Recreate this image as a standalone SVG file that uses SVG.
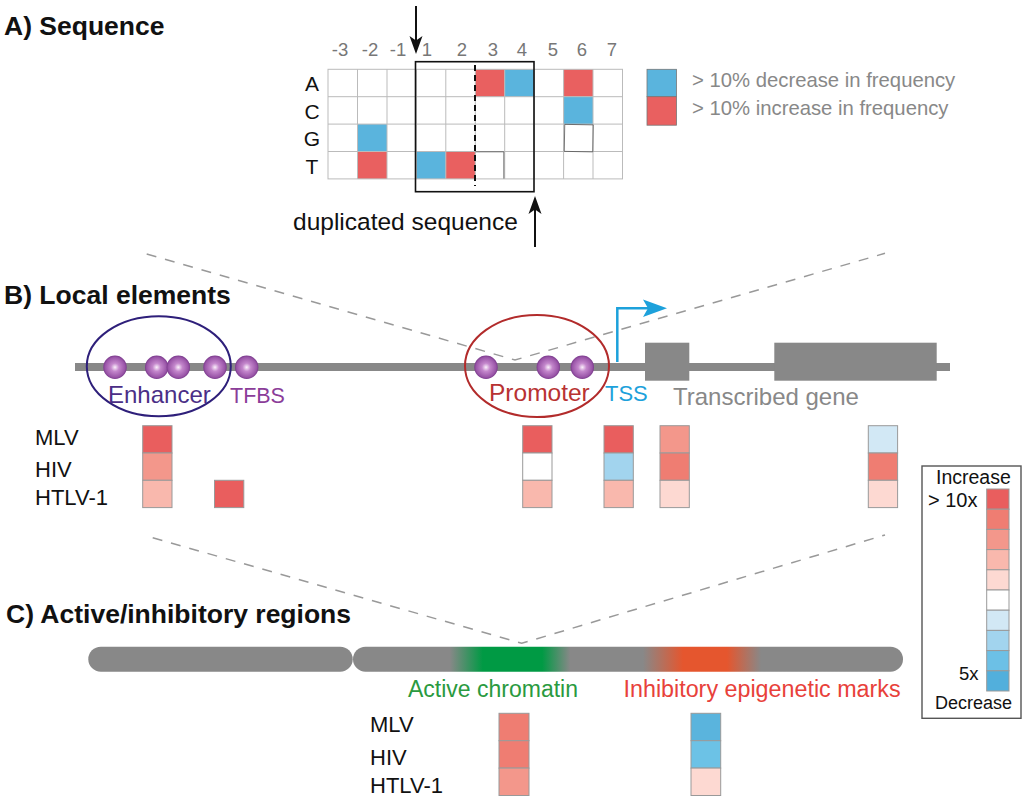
<svg xmlns="http://www.w3.org/2000/svg" width="1024" height="801" viewBox="0 0 1024 801">
<style>
text{font-family:"Liberation Sans",Arial,sans-serif}
.title{font-weight:bold;font-size:26.5px;fill:#111}
.num{font-size:18.5px;fill:#777;text-anchor:middle}
.row{font-size:21px;fill:#111;text-anchor:middle}
.lab{font-size:22px;fill:#111}
.leg{font-size:20.3px;fill:#888}
.grid{fill:none;stroke:#bbb;stroke-width:1}
.cell{stroke:#999;stroke-width:1}
.dash{fill:none;stroke:#999;stroke-width:1.5;stroke-dasharray:10 9}
.r1{fill:#E95E5E}.r2{fill:#EF7D72}.r3{fill:#F3978B}.r4{fill:#F9B8AD}.r5{fill:#FDD9D2}
.w{fill:#fff}.b1{fill:#D2E8F5}.b2{fill:#A2D4EE}.b3{fill:#6CC0E6}.b4{fill:#52AFDC}
.red{fill:#E96060}.blue{fill:#5AB4DD}
.ball{fill:url(#ballg)}
</style>
<defs>
<radialGradient id="ballg" cx="50%" cy="50%" r="50%">
<stop offset="0" stop-color="#FBF0FB"/>
<stop offset="0.35" stop-color="#C487CC"/>
<stop offset="0.85" stop-color="#9A55A8"/>
<stop offset="1" stop-color="#7A3A8C"/>
</radialGradient>
<linearGradient id="chrom" x1="353" y1="0" x2="903" y2="0" gradientUnits="userSpaceOnUse">
<stop offset="0" stop-color="#888"/>
<stop offset="0.176" stop-color="#888"/>
<stop offset="0.236" stop-color="#009A44"/>
<stop offset="0.344" stop-color="#009A44"/>
<stop offset="0.395" stop-color="#888"/>
<stop offset="0.527" stop-color="#888"/>
<stop offset="0.6" stop-color="#E5562E"/>
<stop offset="0.68" stop-color="#E5562E"/>
<stop offset="0.742" stop-color="#888"/>
<stop offset="1" stop-color="#888"/>
</linearGradient>
</defs>
<rect width="1024" height="801" fill="#fff"/>

<g id="sectionA">
<text class="title" x="4" y="35">A) Sequence</text>
<g id="colnums">
<text class="num" x="340" y="56">-3</text>
<text class="num" x="370" y="56">-2</text>
<text class="num" x="398" y="56">-1</text>
<text class="num" x="427" y="56">1</text>
<text class="num" x="462" y="56">2</text>
<text class="num" x="493" y="56">3</text>
<text class="num" x="522" y="56">4</text>
<text class="num" x="553" y="56">5</text>
<text class="num" x="582" y="56">6</text>
<text class="num" x="612" y="56">7</text>
</g>
<g id="rowlabels">
<text class="row" x="312" y="91">A</text>
<text class="row" x="312" y="118.5">C</text>
<text class="row" x="312" y="146">G</text>
<text class="row" x="312" y="173.5">T</text>
</g>
<g id="cells">
<rect class="red" x="475.3" y="69.3" width="29.4" height="27.4"/>
<rect class="blue" x="504.7" y="69.3" width="29.5" height="27.4"/>
<rect class="red" x="563.6" y="69.3" width="29.4" height="27.4"/>
<rect class="blue" x="563.6" y="96.7" width="29.4" height="27.4"/>
<rect class="blue" x="357.5" y="124.1" width="29.5" height="27.4"/>
<rect class="red" x="357.5" y="151.5" width="29.5" height="27.4"/>
<rect class="blue" x="416.3" y="151.5" width="29.5" height="27.4"/>
<rect class="red" x="445.8" y="151.5" width="29.5" height="27.4"/>
</g>
<g id="gridlines" class="grid">
<rect x="328" y="69.3" width="294.5" height="109.6"/>
<path d="M357.5 69.3V178.9M387 69.3V178.9M416.3 69.3V178.9M445.8 69.3V178.9M475.3 69.3V178.9M504.7 69.3V178.9M534.2 69.3V178.9M563.6 69.3V178.9M593 69.3V178.9M328 96.7H622.5M328 124.1H622.5M328 151.5H622.5"/>
</g>
<rect x="564.5" y="124.6" width="28.5" height="27" fill="none" stroke="#555" stroke-width="0.8" transform="rotate(1 578 138)"/>
<path d="M475.3 151.8H503.8V178.6" fill="none" stroke="#555" stroke-width="0.8"/>
<rect id="dupbox" x="415.5" y="61.7" width="118.5" height="130" fill="none" stroke="#111" stroke-width="1.6"/>
<line x1="475" y1="65" x2="475" y2="186" stroke="#111" stroke-width="2" stroke-dasharray="6 4"/>
<g id="arrowDown">
<line x1="416" y1="6" x2="416" y2="44" stroke="#111" stroke-width="2"/>
<path d="M416 54L409.5 36L416 40.5L422.5 36Z" fill="#111"/>
</g>
<g id="arrowUp">
<line x1="535" y1="247" x2="535" y2="206" stroke="#111" stroke-width="2"/>
<path d="M535 196L528.5 214L535 209.5L541.5 214Z" fill="#111"/>
</g>
<text class="lab" x="293" y="230" style="font-size:24.5px">duplicated sequence</text>
<g id="legendA">
<rect x="647" y="69.3" width="29.5" height="27.4" fill="#5AB4DD" stroke="#777" stroke-width="0.8"/>
<rect x="647" y="96.7" width="29.5" height="28.5" fill="#E96060" stroke="#777" stroke-width="0.8"/>
<text class="leg" x="692" y="86.5">&gt; 10% decrease in frequency</text>
<text class="leg" x="692" y="115">&gt; 10% increase in frequency</text>
</g>
</g>

<g id="connectors">
<path class="dash" d="M146.7 254L515 360L885 253.3"/>
<path class="dash" d="M152.7 537.7L521.7 643.3L885 535"/>
</g>

<g id="sectionB">
<text class="title" x="4" y="304">B) Local elements</text>
<g id="geneline">
<rect x="75" y="363" width="875" height="8" fill="#888"/>
<rect id="exon1" x="645" y="342.7" width="44.3" height="38" fill="#888"/>
<rect id="exon2" x="774.3" y="342.7" width="162.4" height="38" fill="#888"/>
</g>
<g id="enhancer">
<circle class="ball" cx="115" cy="367.3" r="11.7"/>
<circle class="ball" cx="156.7" cy="367.3" r="11.7"/>
<circle class="ball" cx="178.3" cy="367.3" r="11.7"/>
<circle class="ball" cx="215" cy="367.3" r="11.7"/>
<ellipse cx="158.8" cy="366.3" rx="72" ry="50" fill="none" stroke="#2E1F7A" stroke-width="2"/>
<text x="108" y="403" style="font-size:24px;fill:#4B2E86">Enhancer</text>
</g>
<g id="tfbs">
<circle class="ball" cx="246.7" cy="367.3" r="11.7"/>
<text x="230" y="403" style="font-size:21.5px;fill:#8B3D99">TFBS</text>
</g>
<g id="promoter">
<circle class="ball" cx="486" cy="367.3" r="11.7"/>
<circle class="ball" cx="548.3" cy="367.3" r="11.7"/>
<circle class="ball" cx="582.3" cy="367.3" r="11.7"/>
<ellipse cx="537" cy="366" rx="72" ry="51" fill="none" stroke="#B22B2B" stroke-width="2"/>
<text x="489" y="401" style="font-size:24.5px;fill:#B83232">Promoter</text>
</g>
<g id="tss">
<path d="M617.3 362V308.3H652" fill="none" stroke="#1DA1DB" stroke-width="2.5"/>
<path d="M667 308.3L643 299.5L648 308.3L643 317Z" fill="#1DA1DB"/>
<text x="605" y="401" style="font-size:22px;fill:#1DA1DB">TSS</text>
</g>
<text id="gene" x="673" y="405" style="font-size:24px;fill:#888">Transcribed gene</text>
<g id="labelsB">
<text class="lab" x="35" y="445">MLV</text>
<text class="lab" x="35" y="476.5">HIV</text>
<text class="lab" x="35" y="505">HTLV-1</text>
</g>
<g id="heatB">
<rect class="cell r1" x="142.7" y="425.7" width="29.3" height="27.3"/>
<rect class="cell r3" x="142.7" y="453" width="29.3" height="27.3"/>
<rect class="cell r4" x="142.7" y="480.3" width="29.3" height="27.3"/>
<rect class="cell r1" x="214.5" y="480.3" width="29.3" height="27.3"/>
<rect class="cell r1" x="522.7" y="425.7" width="29.3" height="27.3"/>
<rect class="cell w" x="522.7" y="453" width="29.3" height="27.3"/>
<rect class="cell r4" x="522.7" y="480.3" width="29.3" height="27.3"/>
<rect class="cell r1" x="604" y="425.7" width="29.3" height="27.3"/>
<rect class="cell b2" x="604" y="453" width="29.3" height="27.3"/>
<rect class="cell r4" x="604" y="480.3" width="29.3" height="27.3"/>
<rect class="cell r3" x="660" y="425.7" width="29.3" height="27.3"/>
<rect class="cell r2" x="660" y="453" width="29.3" height="27.3"/>
<rect class="cell r5" x="660" y="480.3" width="29.3" height="27.3"/>
<rect class="cell b1" x="868.3" y="425.7" width="29.3" height="27.3"/>
<rect class="cell r2" x="868.3" y="453" width="29.3" height="27.3"/>
<rect class="cell r5" x="868.3" y="480.3" width="29.3" height="27.3"/>
</g>
</g>

<g id="legendScale">
<rect x="922" y="466" width="99" height="252.3" fill="#fff" stroke="#555" stroke-width="1.4"/>
<text x="936" y="483.5" style="font-size:19.5px;fill:#111">Increase</text>
<text x="928" y="506.5" style="font-size:20px;fill:#111">&gt; 10x</text>
<text x="959" y="680" style="font-size:18.5px;fill:#111">5x</text>
<text x="935" y="708.5" style="font-size:18px;fill:#111">Decrease</text>
<rect class="cell r1" x="986.7" y="489" width="22.3" height="20.2"/>
<rect class="cell r2" x="986.7" y="509.2" width="22.3" height="20.2"/>
<rect class="cell r3" x="986.7" y="529.4" width="22.3" height="20.2"/>
<rect class="cell r4" x="986.7" y="549.6" width="22.3" height="20.2"/>
<rect class="cell r5" x="986.7" y="569.8" width="22.3" height="20.2"/>
<rect class="cell w" x="986.7" y="590" width="22.3" height="20.2"/>
<rect class="cell b1" x="986.7" y="610.2" width="22.3" height="20.2"/>
<rect class="cell b2" x="986.7" y="630.4" width="22.3" height="20.2"/>
<rect class="cell b3" x="986.7" y="650.6" width="22.3" height="20.2"/>
<rect class="cell b4" x="986.7" y="670.8" width="22.3" height="20.2"/>
</g>

<g id="sectionC">
<text class="title" x="6" y="623">C) Active/inhibitory regions</text>
<g id="chromosome">
<rect x="88.3" y="646.7" width="264.4" height="25" rx="12.5" fill="#888"/>
<rect x="353" y="646.7" width="550" height="25" rx="12.5" fill="url(#chrom)"/>
</g>
<text x="408" y="696.7" style="font-size:23px;fill:#2A9A40">Active chromatin</text>
<text x="623.5" y="696.7" style="font-size:23.3px;fill:#E8413A">Inhibitory epigenetic marks</text>
<g id="labelsC">
<text class="lab" x="370" y="731.7">MLV</text>
<text class="lab" x="370" y="765">HIV</text>
<text class="lab" x="370" y="793.3">HTLV-1</text>
</g>
<g id="heatC">
<rect class="cell r2" x="499" y="713.3" width="30" height="27.4"/>
<rect class="cell r2" x="499" y="740.7" width="30" height="27.4"/>
<rect class="cell r3" x="499" y="768.1" width="30" height="27.4"/>
<rect class="cell" style="fill:#5AB4DD" x="691" y="713.3" width="29.7" height="27.4"/>
<rect class="cell" style="fill:#6CC2E6" x="691" y="740.7" width="29.7" height="27.4"/>
<rect class="cell r5" x="691" y="768.1" width="29.7" height="27.4"/>
</g>
</g>
</svg>
